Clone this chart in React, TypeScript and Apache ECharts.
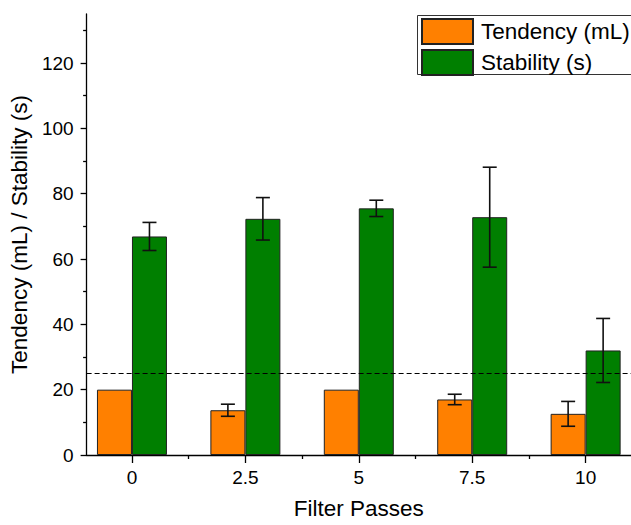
import React, { useEffect, useRef } from "react";
import * as echarts from "echarts";

const passes = [0, 2.5, 5, 7.5, 10];
const tendency = [20, 13.7, 20, 17.0, 12.6];
const tendencyErr = [0, 1.85, 0, 1.6, 3.8];
const stability = [66.9, 72.3, 75.5, 72.8, 32.0];
const stabilityErr = [4.3, 6.5, 2.5, 15.3, 9.8];
const yMajorTicks = [0, 20, 40, 60, 80, 100, 120];
const yMinorTicks = [10, 30, 50, 70, 90, 110, 130];
const xMajorTicks = [0, 2.5, 5, 7.5, 10];
const xMinorTicks = [1.25, 3.75, 6.25, 8.75];
const thresholdValue = 25;

const FONT = "Liberation Sans";

export default function App() {
  const ref = useRef<HTMLDivElement>(null);
  useEffect(() => {
    if (!ref.current) return;
    const chart = echarts.init(ref.current, undefined, { renderer: "svg" });

    const errSeries = (vals: number[], errs: number[], offset: number) => ({
      type: "custom",
      silent: true,
      z: 10,
      data: passes.map((x, i) => [x, vals[i], errs[i]]),
      encode: { x: 0, y: 1 },
      renderItem: (params: any, api: any) => {
        const x = api.value(0);
        const v = api.value(1);
        const e = api.value(2);
        if (!e) return { type: "group", children: [] };
        const hi = api.coord([x, v + e]);
        const lo = api.coord([x, v - e]);
        const cx = hi[0] + offset;
        const cap = 7;
        const style = { stroke: "#111", lineWidth: 1.6 };
        return {
          type: "group",
          children: [
            { type: "line", shape: { x1: cx, y1: hi[1], x2: cx, y2: lo[1] }, style },
            { type: "line", shape: { x1: cx - cap, y1: hi[1], x2: cx + cap, y2: hi[1] }, style },
            { type: "line", shape: { x1: cx - cap, y1: lo[1], x2: cx + cap, y2: lo[1] }, style },
          ],
        };
      },
    });

    chart.setOption({
      animation: false,
      backgroundColor: "#fff",
      textStyle: { fontFamily: FONT },
      grid: { left: 85, right: -6, top: 14, bottom: 66, containLabel: false },
      graphic: [
        {
          type: "rect",
          z: 3,
          silent: true,
          shape: { x: 417.5, y: 15.5, width: 260, height: 59 },
          style: { fill: "#fff", stroke: "#333", lineWidth: 1 },
        },
      ],
      legend: {
        orient: "vertical",
        left: 417,
        top: 15,
        z: 5,
        data: ["Tendency (mL)", "Stability (s)"],
        icon: "rect",
        itemWidth: 51,
        itemHeight: 25,
        itemGap: 4,
        padding: [3, 0, 3, 4],
        borderWidth: 0,
        textStyle: { fontFamily: FONT, fontSize: 22.5, color: "#000", padding: [0, 0, 0, 3] },
      },
      xAxis: [
        {
          type: "value",
          min: -1,
          max: 11,
          name: "Filter Passes",
          nameLocation: "middle",
          nameGap: 42,
          nameTextStyle: { fontFamily: FONT, fontSize: 22.5, color: "#000" },
          axisLine: { show: true, onZero: false, lineStyle: { color: "#000", width: 1.3 } },
          axisTick: { show: true, length: 8, customValues: xMajorTicks, lineStyle: { color: "#000", width: 1.3 } },
          axisLabel: {
            customValues: xMajorTicks,
            margin: 13,
            fontFamily: FONT,
            fontSize: 19,
            color: "#000",
          },
          splitLine: { show: false },
        },
        {
          type: "value",
          min: -1,
          max: 11,
          position: "bottom",
          axisLine: { show: false, onZero: false },
          axisTick: { show: true, length: 4, customValues: xMinorTicks, lineStyle: { color: "#000", width: 1.3 } },
          axisLabel: { show: false },
          splitLine: { show: false },
        },
      ],
      yAxis: [
        {
          type: "value",
          min: 0,
          max: 135,
          name: "Tendency (mL) / Stability (s)",
          nameLocation: "middle",
          nameGap: 51,
          nameTextStyle: { fontFamily: FONT, fontSize: 22.5, color: "#000" },
          axisLine: { show: true, onZero: false, lineStyle: { color: "#000", width: 1.3 } },
          axisTick: { show: true, length: 6, customValues: yMajorTicks, lineStyle: { color: "#000", width: 1.3 } },
          axisLabel: {
            customValues: yMajorTicks,
            margin: 13,
            fontFamily: FONT,
            fontSize: 19,
            color: "#000",
          },
          splitLine: { show: false },
        },
        {
          type: "value",
          min: 0,
          max: 135,
          position: "left",
          axisLine: { show: false, onZero: false },
          axisTick: { show: true, length: 3.5, customValues: yMinorTicks, lineStyle: { color: "#000", width: 1.3 } },
          axisLabel: { show: false },
          splitLine: { show: false },
        },
      ],
      series: [
        {
          name: "Tendency (mL)",
          type: "bar",
          barWidth: 35,
          barGap: "0%",
          data: passes.map((x, i) => [x, tendency[i]]),
          itemStyle: { color: "#FF8000", borderColor: "#222", borderWidth: 1 },
          markLine: {
            silent: true,
            symbol: "none",
            label: { show: false },
            lineStyle: { color: "#000", type: [5, 3], width: 1.2 },
            data: [{ yAxis: thresholdValue }],
          },
        },
        {
          name: "Stability (s)",
          type: "bar",
          barWidth: 35,
          barGap: "0%",
          data: passes.map((x, i) => [x, stability[i]]),
          itemStyle: { color: "#007F00", borderColor: "#222", borderWidth: 1 },
        },
        errSeries(tendency, tendencyErr, -17.5),
        errSeries(stability, stabilityErr, 17.5),
      ],
    });
    return () => chart.dispose();
  }, []);
  return (
    <div
      ref={ref}
      style={{ position: "fixed", left: 0, top: 0, width: 631, height: 525 }}
    />
  );
}
